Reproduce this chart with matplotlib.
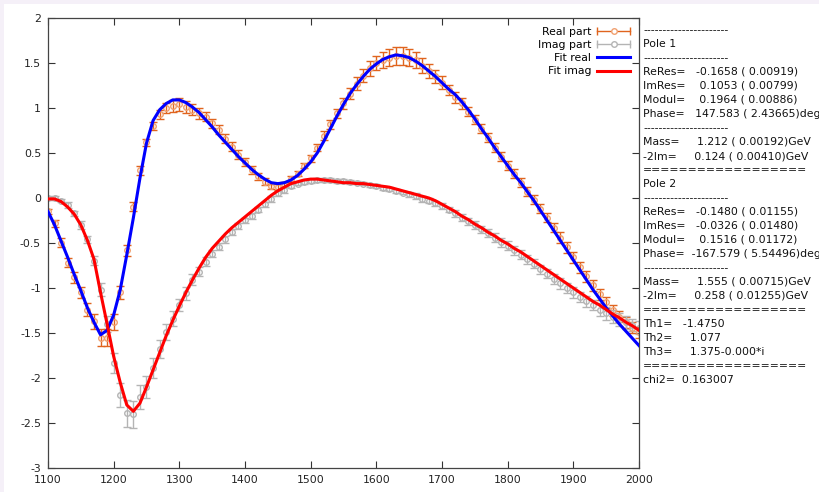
import numpy as np
import matplotlib
matplotlib.use("Agg")
from matplotlib import pyplot as plt
from matplotlib.lines import Line2D
from matplotlib.legend_handler import HandlerBase
from matplotlib.patches import Rectangle
from matplotlib.ticker import FuncFormatter, MultipleLocator

plt.rcParams['font.family'] = ['DejaVu Sans']
plt.rcParams['axes.unicode_minus'] = False

# energy grid of the measured points (MeV)
energy = np.arange(1100, 2001, 10)

real_pts = [
    -0.15, -0.28, -0.50, -0.72, -0.88, -1.05, -1.24,
    -1.37, -1.55, -1.55, -1.38, -1.05, -0.58, -0.10,
    0.31, 0.62, 0.80, 0.93, 1.00, 1.02, 1.04,
    1.01, 0.98, 0.94, 0.90, 0.83, 0.76, 0.66,
    0.57, 0.48, 0.40, 0.31, 0.24, 0.18, 0.13,
    0.12, 0.15, 0.21, 0.27, 0.36, 0.44, 0.56,
    0.69, 0.82, 0.94, 1.05, 1.16, 1.27, 1.36,
    1.44, 1.50, 1.53, 1.56, 1.58, 1.58, 1.56,
    1.53, 1.47, 1.41, 1.35, 1.28, 1.20, 1.12,
    1.05, 0.96, 0.87, 0.77, 0.67, 0.56, 0.46,
    0.36, 0.27, 0.17, 0.07, -0.02, -0.12, -0.22,
    -0.33, -0.44, -0.55, -0.66, -0.77, -0.87, -0.97,
    -1.07, -1.16, -1.25, -1.32, -1.38, -1.44, -1.49,
]
real_err = [
    0.03, 0.04, 0.05, 0.05, 0.06, 0.06, 0.07,
    0.08, 0.09, 0.09, 0.09, 0.07, 0.06, 0.05,
    0.05, 0.04, 0.04, 0.05, 0.06, 0.07, 0.07,
    0.07, 0.06, 0.06, 0.05, 0.05, 0.05, 0.05,
    0.05, 0.05, 0.04, 0.04, 0.04, 0.04, 0.03,
    0.03, 0.03, 0.03, 0.03, 0.03, 0.04, 0.04,
    0.05, 0.05, 0.05, 0.06, 0.06, 0.07, 0.07,
    0.08, 0.08, 0.09, 0.09, 0.10, 0.10, 0.09,
    0.09, 0.08, 0.08, 0.07, 0.07, 0.06, 0.06,
    0.06, 0.05, 0.05, 0.05, 0.05, 0.05, 0.05,
    0.05, 0.05, 0.05, 0.05, 0.05, 0.05, 0.05,
    0.05, 0.06, 0.06, 0.06, 0.06, 0.06, 0.06,
    0.06, 0.06, 0.06, 0.06, 0.06, 0.06, 0.06,
]
imag_pts = [
    0.00, 0.00, -0.03, -0.08, -0.17, -0.30, -0.46,
    -0.70, -1.02, -1.40, -1.83, -2.19, -2.39, -2.40,
    -2.21, -2.10, -1.89, -1.68, -1.49, -1.34, -1.19,
    -1.06, -0.91, -0.82, -0.71, -0.62, -0.54, -0.46,
    -0.38, -0.31, -0.25, -0.20, -0.13, -0.07, -0.01,
    0.05, 0.09, 0.13, 0.16, 0.18, 0.19, 0.20,
    0.20, 0.20, 0.19, 0.19, 0.18, 0.17, 0.16,
    0.14, 0.13, 0.11, 0.10, 0.08, 0.06, 0.04,
    0.02, -0.01, -0.03, -0.06, -0.09, -0.13, -0.17,
    -0.22, -0.26, -0.30, -0.35, -0.39, -0.44, -0.49,
    -0.53, -0.58, -0.63, -0.68, -0.73, -0.79, -0.84,
    -0.90, -0.95, -1.00, -1.05, -1.10, -1.15, -1.19,
    -1.24, -1.28, -1.32, -1.35, -1.38, -1.41, -1.44,
]
imag_err = [
    0.02, 0.02, 0.02, 0.03, 0.03, 0.04, 0.04,
    0.05, 0.07, 0.09, 0.11, 0.13, 0.15, 0.15,
    0.13, 0.12, 0.11, 0.10, 0.09, 0.08, 0.07,
    0.07, 0.06, 0.05, 0.05, 0.04, 0.04, 0.04,
    0.03, 0.03, 0.03, 0.03, 0.03, 0.03, 0.03,
    0.03, 0.03, 0.02, 0.02, 0.02, 0.02, 0.02,
    0.02, 0.02, 0.02, 0.02, 0.02, 0.02, 0.02,
    0.02, 0.02, 0.02, 0.02, 0.02, 0.02, 0.03,
    0.03, 0.03, 0.03, 0.03, 0.03, 0.03, 0.04,
    0.04, 0.04, 0.04, 0.04, 0.04, 0.05, 0.05,
    0.05, 0.05, 0.05, 0.05, 0.05, 0.05, 0.05,
    0.06, 0.06, 0.06, 0.06, 0.06, 0.06, 0.06,
    0.07, 0.07, 0.07, 0.07, 0.07, 0.07, 0.07,
]
fit_real = [
    -0.15, -0.30, -0.48, -0.66, -0.85, -1.03, -1.22,
    -1.38, -1.52, -1.47, -1.30, -1.02, -0.63, -0.22,
    0.22, 0.61, 0.86, 0.98, 1.05, 1.09, 1.09,
    1.06, 1.01, 0.95, 0.87, 0.79, 0.70, 0.62,
    0.54, 0.46, 0.39, 0.32, 0.26, 0.21, 0.17,
    0.16, 0.17, 0.20, 0.25, 0.32, 0.40, 0.50,
    0.63, 0.77, 0.91, 1.04, 1.16, 1.26, 1.35,
    1.43, 1.49, 1.54, 1.57, 1.59, 1.58, 1.56,
    1.52, 1.47, 1.41, 1.35, 1.28, 1.21, 1.15,
    1.07, 0.98, 0.88, 0.77, 0.67, 0.56, 0.46,
    0.36, 0.26, 0.17, 0.07, -0.03, -0.14, -0.25,
    -0.36, -0.47, -0.58, -0.69, -0.80, -0.91, -1.02,
    -1.12, -1.22, -1.31, -1.40, -1.48, -1.56, -1.64,
]
fit_imag = [
    -0.01, -0.01, -0.04, -0.10, -0.18, -0.30, -0.47,
    -0.68, -1.05, -1.40, -1.76, -2.05, -2.30, -2.37,
    -2.28, -2.10, -1.91, -1.72, -1.53, -1.36, -1.20,
    -1.05, -0.91, -0.78, -0.66, -0.56, -0.48, -0.40,
    -0.33, -0.27, -0.21, -0.15, -0.09, -0.03, 0.03,
    0.08, 0.12, 0.16, 0.18, 0.20, 0.21, 0.21,
    0.20, 0.19, 0.18, 0.17, 0.17, 0.16, 0.16,
    0.15, 0.14, 0.13, 0.12, 0.10, 0.08, 0.06,
    0.04, 0.02, 0.00, -0.03, -0.07, -0.11, -0.15,
    -0.20, -0.24, -0.29, -0.33, -0.38, -0.42, -0.47,
    -0.51, -0.56, -0.60, -0.65, -0.70, -0.75, -0.80,
    -0.85, -0.90, -0.95, -1.00, -1.05, -1.10, -1.15,
    -1.19, -1.24, -1.29, -1.33, -1.38, -1.42, -1.47,
]

x_ticks = [1100, 1200, 1300, 1400, 1500, 1600, 1700, 1800, 1900, 2000]

panel_lines = [
    '-' * 22,
    'Pole 1',
    '-' * 22,
    'ReRes=   -0.1658 ( 0.00919)',
    'ImRes=    0.1053 ( 0.00799)',
    'Modul=    0.1964 ( 0.00886)',
    'Phase=   147.583 ( 2.43665)deg',
    '-' * 22,
    'Mass=     1.212 ( 0.00192)GeV',
    '-2Im=     0.124 ( 0.00410)GeV',
    '=' * 18,
    'Pole 2',
    '-' * 22,
    'ReRes=   -0.1480 ( 0.01155)',
    'ImRes=   -0.0326 ( 0.01480)',
    'Modul=    0.1516 ( 0.01172)',
    'Phase=  -167.579 ( 5.54496)deg',
    '-' * 22,
    'Mass=     1.555 ( 0.00715)GeV',
    '-2Im=     0.258 ( 0.01255)GeV',
    '=' * 18,
    'Th1=   -1.4750',
    'Th2=     1.077',
    'Th3=     1.375-0.000*i',
    '=' * 18,
    'chi2=  0.163007',
]

ORANGE = '#e0641e'
ORANGE_DOT = '#f0a070'
GREY = '#b4b4b4'


class ErrKey(HandlerBase):
    # gnuplot style key: line with caps at both ends and a point in the middle
    def __init__(self, bar, dot):
        super().__init__()
        self.bar = bar
        self.dot = dot

    def create_artists(self, legend, orig_handle, xdescent, ydescent,
                       width, height, fontsize, trans):
        x0 = -xdescent
        y = -ydescent + height / 2
        line = Line2D([x0, x0 + width], [y, y], color=self.bar, lw=1)
        caps = Line2D([x0, x0 + width], [y, y], ls='none', marker='|',
                      ms=6, mew=1, color=self.bar)
        dot = Line2D([x0 + width / 2], [y], ls='none', marker='o', ms=4,
                     mfc='white', mec=self.dot, mew=1)
        for a in (line, caps, dot):
            a.set_transform(trans)
        return [line, caps, dot]


fig = plt.figure(figsize=(8.2, 4.92), dpi=100)
fig.patch.set_facecolor('#f5f0f8')
fig.add_artist(Rectangle((4 / 820, 0), 1, 1 - 4 / 492, transform=fig.transFigure,
                         facecolor='white', edgecolor='none', zorder=0))
ax = fig.add_axes([48 / 820, 24 / 492, 591 / 820, 450 / 492])

ax.errorbar(energy, real_pts, yerr=real_err, fmt='o', ms=4, mfc='none',
            mec=ORANGE_DOT, mew=1, ecolor=ORANGE, elinewidth=1,
            capsize=2.6, capthick=1, zorder=2)
ax.errorbar(energy, imag_pts, yerr=imag_err, fmt='o', ms=4, mfc='none',
            mec=GREY, mew=1, ecolor=GREY, elinewidth=1,
            capsize=2.6, capthick=1, zorder=2)
l_re, = ax.plot(energy, fit_real, color='#0000ff', lw=2.2, zorder=3)
l_im, = ax.plot(energy, fit_imag, color='#ff0000', lw=2.2, zorder=4)

ax.set_xlim(1100, 2000)
ax.set_ylim(-3, 2)
ax.set_xticks(x_ticks)
ax.yaxis.set_major_locator(MultipleLocator(0.5))
ax.yaxis.set_major_formatter(FuncFormatter(lambda v, p: '%g' % v))
ax.tick_params(direction='in', top=True, right=True, length=5, width=0.8,
               color='#333333', labelsize=7.8, labelcolor='#222222', pad=5)
for s in ax.spines.values():
    s.set_color('#444444')
    s.set_linewidth(0.9)

k_re = Line2D([], [])
k_im = Line2D([], [])
ax.legend([k_re, k_im, l_re, l_im],
          ['Real part', 'Imag part', 'Fit real', 'Fit imag'],
          handler_map={k_re: ErrKey(ORANGE, ORANGE_DOT), k_im: ErrKey(GREY, GREY)},
          loc='upper right', frameon=False, markerfirst=False, fontsize=7.8,
          handlelength=3.1, labelspacing=0.3, handletextpad=0.5,
          borderaxespad=0.4)

for i, line in enumerate(panel_lines):
    fig.text(643 / 820, 1 - (30 + 14 * i) / 492, line, fontsize=7.8,
             va='center', ha='left', color='#111111')

fig.savefig('out.png', dpi=100, facecolor=fig.get_facecolor())
